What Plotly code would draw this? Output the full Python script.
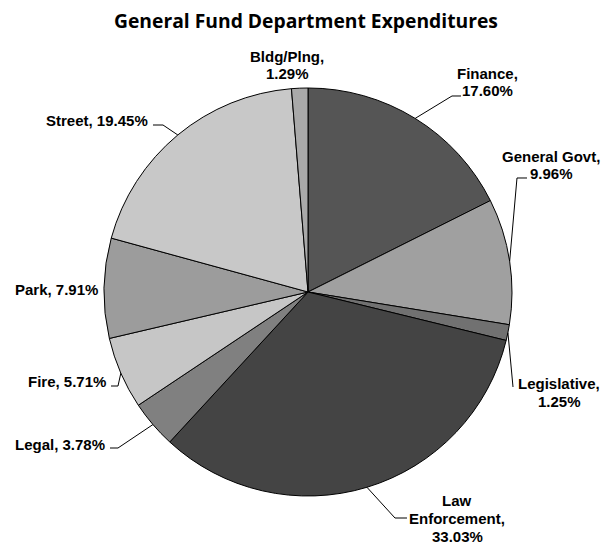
import math
import plotly.graph_objects as go

# ---- data ----
departments = ["Finance", "General Govt", "Legislative", "Law Enforcement", "Legal",
               "Fire", "Park", "Street", "Bldg/Plng"]
percent = [17.60, 9.96, 1.25, 33.03, 3.78, 5.71, 7.91, 19.45, 1.29]
label_text = ["Finance,<br>17.60%", "General Govt,<br>9.96%", "Legislative,<br>1.25%",
              "Law<br>Enforcement,<br>33.03%", "Legal, 3.78%", "Fire, 5.71%",
              "Park, 7.91%", "Street, 19.45%", "Bldg/Plng,<br>1.29%"]

# ---- styles / layout ----
OFF = 8                      # page body margin
W, H = 604, 536
LINE = 18                    # label line spacing (px)
colors = ["#555555", "#a0a0a0", "#717171", "#444444", "#808080",
          "#c6c6c6", "#9c9c9c", "#c8c8c8", "#a9a9a9"]
CX, CY, R = 308, 292, 204    # screen px
# label centre positions (screen px) and leader elbow/end points (screen px)
label_pos = {
    "Finance": (488, 82), "General Govt": (551, 165), "Legislative": (559, 392),
    "Law Enforcement": (457, 518), "Legal": (60, 444), "Fire": (67, 381),
    "Park": (56, 289), "Street": (97, 121), "Bldg/Plng": (287, 65),
}
leader = {
    "Finance": [(452, 96), (461, 96)],
    "General Govt": [(517, 178), (527, 178)],
    "Legislative": [(513, 387)],
    "Law Enforcement": [(395, 518), (407, 518)],
    "Legal": [(118, 448), (110, 448)],
    "Fire": [(118, 386), (111, 386)],
    "Street": [(163, 125), (153, 125)],
}

def px(x, y):
    return (x - OFF) / W, 1 - (y - OFF) / H

fig = go.Figure()
x0, y1 = px(CX - R, CY - R)
x1, y0 = px(CX + R, CY + R)
fig.add_trace(go.Pie(
    labels=departments, values=percent, sort=False, direction="clockwise", rotation=0,
    marker=dict(colors=colors, line=dict(color="black", width=1)),
    textinfo="none", hoverinfo="label+percent", showlegend=False,
    domain=dict(x=[x0, x1], y=[y0, y1]),
))

total = sum(percent)
cum = 0.0
shapes = []
annotations = []
for name, val, txt in zip(departments, percent, label_text):
    mid = (cum + val / 2) / total * 2 * math.pi
    cum += val
    ex, ey = CX + R * math.sin(mid), CY - R * math.cos(mid)
    if name in leader:
        pts = [(ex, ey)] + leader[name]
        path = "M " + " L ".join("%f,%f" % px(x, y) for x, y in pts)
        shapes.append(dict(type="path", xref="paper", yref="paper", path=path,
                           line=dict(color="black", width=1)))
    lx, ly = label_pos[name]
    lines = txt.split("<br>")
    n = len(lines)
    for i, ln in enumerate(lines):
        ax, ay = px(lx, ly + (i - (n - 1) / 2) * LINE)
        annotations.append(dict(x=ax, y=ay, xref="paper", yref="paper", text="<b>%s</b>" % ln,
                                showarrow=False, xanchor="center", yanchor="middle",
                                font=dict(family="Liberation Sans, Arial", size=15, color="black")))

tx, ty = px(306, 21)
annotations.append(dict(x=tx, y=ty, xref="paper", yref="paper",
                        text="<b>General Fund Department Expenditures</b>", showarrow=False,
                        xanchor="center", yanchor="middle",
                        font=dict(family="Open Sans", size=19.3, color="black")))

fig.update_layout(width=W, height=H, margin=dict(l=0, r=0, t=0, b=0),
                  paper_bgcolor="white", plot_bgcolor="white",
                  shapes=shapes, annotations=annotations)
fig.write_html("out.html")
